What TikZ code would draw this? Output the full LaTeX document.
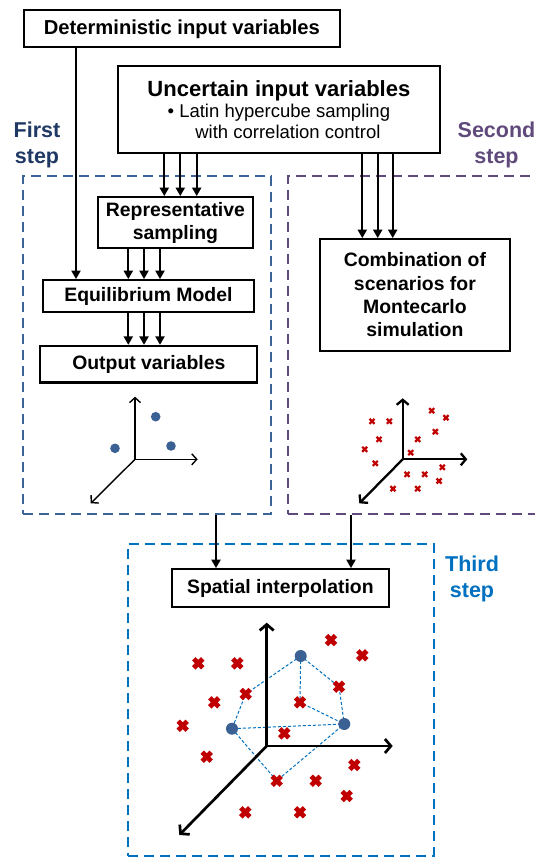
\documentclass[tikz,border=0pt]{standalone}
\usepackage{fontspec}
\setmainfont{Liberation Sans}
\usepackage{xcolor}
\usetikzlibrary{arrows.meta, positioning}
\definecolor{firstblue}{RGB}{58,100,150}
\definecolor{firstnavy}{RGB}{31,56,100}
\definecolor{secondpurple}{RGB}{96,74,123}
\definecolor{thirdblue}{RGB}{0,112,192}
\definecolor{dotblue}{RGB}{58,96,148}
\definecolor{crossred}{RGB}{192,0,0}

\begin{document}
\begin{tikzpicture}[x=1pt, y=-1pt,
    box/.style={draw=black, line width=2.2pt, align=center, inner sep=0pt, font=\fontsize{19.4}{22.5}\selectfont\bfseries},
    stepframe/.style={dash pattern=on 10pt off 6pt, line width=2pt, inner sep=0pt},
    steplabel/.style={align=center, font=\fontsize{21.5}{26.5}\selectfont\bfseries},
    arrow/.style={-{Triangle[length=8.5pt,width=9pt]}, line width=2pt},
    thinaxis/.style={-{Straight Barb[length=5pt,width=11pt]}, line width=1.4pt},
    midaxis/.style={-{Straight Barb[length=5pt,width=12pt]}, line width=2.3pt},
    bigaxis/.style={-{Straight Barb[length=6pt,width=14pt]}, line width=2.7pt},
    smallcross/.style={crossred, line width=2.2pt},
    bigcross/.style={crossred, line width=4.8pt},
    netline/.style={thirdblue, line width=1pt, dash pattern=on 3pt off 2pt}
]
    \clip (0,0) rectangle (535,859);

    % Inputs on top
    \node[box, minimum width=316pt, minimum height=37pt, font=\fontsize{20.2}{23}\selectfont\bfseries] (det) at (181.9,28.8) {Deterministic input variables};
    \node[box, minimum width=322pt, minimum height=87pt, font=\fontsize{18.5}{21}\selectfont] (unc) at (278.9,109.7)
        {{\fontsize{22}{24}\selectfont\bfseries Uncertain input variables}\\
         \textbullet\ Latin hypercube sampling\\
         \hspace*{18pt}with correlation control};

    % The three step frames and their labels
    \node[stepframe, draw=firstblue, minimum width=247.5pt, minimum height=338.5pt] (first) at (147.2,345.2) {};
    \node[stepframe, draw=secondpurple, minimum width=271.5pt, minimum height=338.5pt] (second) at (424.2,345.2) {};
    \node[stepframe, draw=thirdblue, minimum width=305.4pt, minimum height=312pt] (third) at (281,699.7) {};
    \node[steplabel, text=firstnavy] (firstlabel) at (37,145) {First\\step};
    \node[steplabel, text=secondpurple] (secondlabel) at (496.5,145) {Second\\step};
    \node[steplabel, text=thirdblue] (thirdlabel) at (472,579) {Third\\step};

    % First step
    \node[box, minimum width=155pt, minimum height=51pt, font=\fontsize{19.4}{23}\selectfont\bfseries] (rep) at (175.4,222.7) {Representative\\sampling};
    \node[box, minimum width=211pt, minimum height=31.5pt] (eq) at (148.4,296) {Equilibrium Model};
    \node[box, minimum width=217pt, minimum height=36.5pt] (out) at (148.8,364.2) {Output variables};

    % Second step
    \node[box, minimum width=189.5pt, minimum height=111.5pt, font=\fontsize{19.4}{23.3}\selectfont\bfseries] (comb) at (414.9,295)
        {Combination of\\scenarios for\\Montecarlo\\simulation};

    % Third step
    \node[box, minimum width=217.5pt, minimum height=37.5pt] (spat) at (280.4,588) {Spatial interpolation};

    % Connectors
    \draw[arrow] (det.south -| 76,0) -- (eq.north -| 76,0);
    \foreach \x in {164.3,180.3,196.7}
        \draw[arrow] (unc.south -| \x,0) -- (rep.north -| \x,0);
    \foreach \x in {362.3,377.7,392.7}
        \draw[arrow] (unc.south -| \x,0) -- (comb.north -| \x,0);
    \foreach \x in {128.3,144,160} {
        \draw[arrow] (rep.south -| \x,0) -- (eq.north -| \x,0);
        \draw[arrow] (eq.south -| \x,0) -- (out.north -| \x,0);
    }
    \draw[arrow] (first.south -| 216,0) -- (spat.north -| 216,0);
    \draw[arrow] (second.south -| 351,0) -- (spat.north -| 351,0);

    % Sampled points in the first step
    \coordinate (o1) at (135,459.3);
    \draw[thinaxis] (o1) -- ++(0,-62.6);
    \draw[thinaxis] (o1) -- ++(62.7,0);
    \draw[thinaxis] (o1) -- ++(-44.3,44);
    \foreach \x/\y in {155.7/416.7, 115/448.3, 171/446}
        \fill[dotblue] (\x,\y) circle[radius=4.8pt];

    % Montecarlo scenarios in the second step
    \coordinate (o2) at (402.7,459.3);
    \draw[midaxis] (o2) -- ++(0,-61);
    \draw[midaxis] (o2) -- ++(64.6,0);
    \draw[midaxis] (o2) -- ++(-43.4,44);
    \foreach \x/\y in {372/421.3, 389.3/421.3, 431.7/410.7, 446/417.7, 379/439.3, 435.3/431.7,
                       417.7/439.3, 364.7/449.3, 410.7/452.7, 375.3/463.3, 442.3/467.3, 407/474.3,
                       424.7/474.3, 439/481, 393/488.7, 417.7/488.7}
        \draw[smallcross] (\x-2.5,\y-2.5) -- (\x+2.5,\y+2.5) (\x-2.5,\y+2.5) -- (\x+2.5,\y-2.5);

    % Interpolation net in the third step
    \coordinate (pa) at (300.7,656);
    \coordinate (pb) at (232,728.7);
    \coordinate (pc) at (344.3,724);
    \coordinate (q6) at (245.7,694);
    \coordinate (q7) at (339,686.7);
    \coordinate (q8) at (300,702.3);
    \coordinate (q13) at (276.7,780.7);
    \draw[netline] (pa) -- (q6) -- (pb) -- (pc) -- (q13) -- (pb);
    \draw[netline] (pa) -- (q8) -- (pc) -- (q7) -- (pa);

    \coordinate (o3) at (266.7,746);
    \draw[bigaxis] (o3) -- ++(0,-123.3);
    \draw[bigaxis] (o3) -- ++(126,0);
    \draw[bigaxis] (o3) -- ++(-87.4,89);
    \foreach \x/\y in {198.3/663.3, 237.3/663.3, 331/640, 362.3/655.3, 214.3/702.3, 245.7/694,
                       339/686.7, 300/702.3, 182.7/725.7, 284.3/733.3, 206.7/756.7, 354.3/765,
                       276.7/780.7, 315.7/780.7, 346.7/796, 245.3/812.3, 300/812.3}
        \draw[bigcross] (\x-4.5,\y-4.5) -- (\x+4.5,\y+4.5) (\x-4.5,\y+4.5) -- (\x+4.5,\y-4.5);
    \foreach \p in {pa,pb,pc}
        \fill[dotblue] (\p) circle[radius=6pt];
\end{tikzpicture}
\end{document}
